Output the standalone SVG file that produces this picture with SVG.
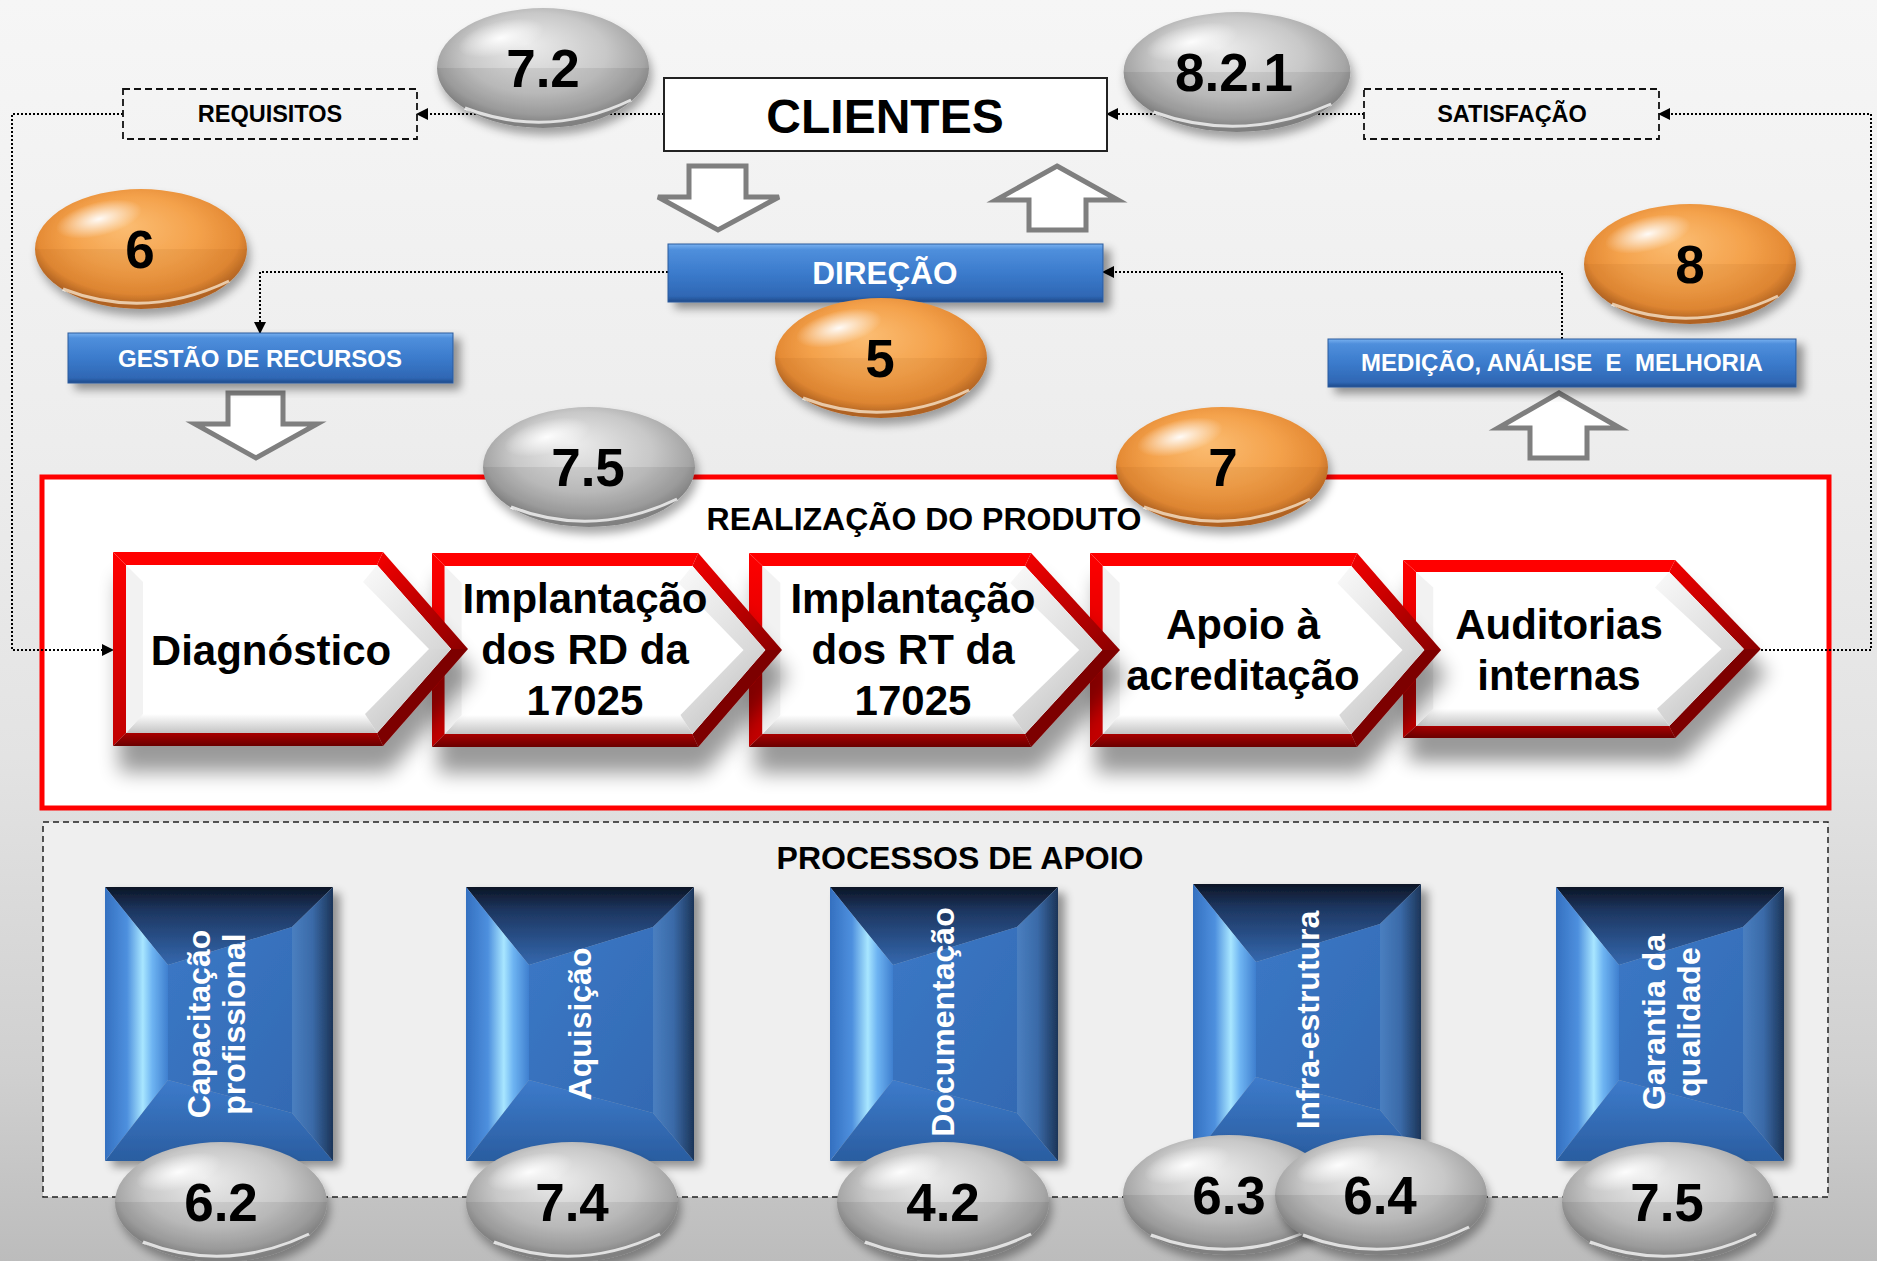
<svg xmlns="http://www.w3.org/2000/svg" width="1877" height="1261" viewBox="0 0 1877 1261">
<defs>
<style>
text{font-family:"Liberation Sans",Arial,sans-serif;font-weight:bold}
.lbl{font-size:23.5px;fill:#000;text-anchor:middle}
.bar{font-size:24px;fill:#fff;text-anchor:middle}
.num{font-size:53px;fill:#000;text-anchor:middle}
.chev{font-size:42px;fill:#000;text-anchor:middle}
.vt{font-size:32px;fill:#fff;text-anchor:middle}
.title{font-size:32px;fill:#000;text-anchor:middle}
.dot{fill:none;stroke:#000;stroke-width:2;stroke-dasharray:2 2}
.dashbox{fill:none;stroke:#111;stroke-width:1.8;stroke-dasharray:7 4}
.hollow{fill:#fff;stroke:#7f7f7f;stroke-width:5;stroke-linejoin:miter}
.barrect{fill:url(#barG);stroke:#2a5a9c;stroke-width:1}
</style>
<linearGradient id="bg" x1="0" y1="0" x2="0" y2="1">
<stop offset="0" stop-color="#f6f6f6"/><stop offset="0.35" stop-color="#ededed"/><stop offset="0.6" stop-color="#e3e3e3"/><stop offset="0.85" stop-color="#d0d0d0"/><stop offset="1" stop-color="#bcbcbc"/>
</linearGradient>
<linearGradient id="barG" x1="0" y1="0" x2="0" y2="1">
<stop offset="0" stop-color="#79b1f0"/><stop offset="0.1" stop-color="#4f8fdc"/><stop offset="0.5" stop-color="#3b7bcc"/><stop offset="0.9" stop-color="#2f67b4"/><stop offset="1" stop-color="#1f4a8a"/>
</linearGradient>
<radialGradient id="gBall" cx="0.5" cy="0.42" r="0.55" fx="0.42" fy="0.3">
<stop offset="0" stop-color="#ececec"/><stop offset="0.6" stop-color="#c8c8c8"/><stop offset="0.88" stop-color="#a6a6a6"/><stop offset="1" stop-color="#8a8a8a"/>
</radialGradient>
<radialGradient id="oBall" cx="0.5" cy="0.42" r="0.55" fx="0.42" fy="0.3">
<stop offset="0" stop-color="#fbbd73"/><stop offset="0.55" stop-color="#f4a24c"/><stop offset="0.86" stop-color="#e58b35"/><stop offset="1" stop-color="#b46626"/>
</radialGradient>
<radialGradient id="hl" cx="0.5" cy="0.5" r="0.5">
<stop offset="0" stop-color="#fff" stop-opacity="0.95"/><stop offset="1" stop-color="#fff" stop-opacity="0"/>
</radialGradient>
<linearGradient id="chL" x1="0" y1="0" x2="0" y2="1"><stop offset="0" stop-color="#ff0000"/><stop offset="1" stop-color="#c00000"/></linearGradient>
<linearGradient id="chUR" x1="0" y1="0" x2="1" y2="1"><stop offset="0" stop-color="#f50000"/><stop offset="1" stop-color="#8a0000"/></linearGradient>
<linearGradient id="chB" x1="0" y1="0" x2="0" y2="1"><stop offset="0" stop-color="#a80000"/><stop offset="1" stop-color="#6a0000"/></linearGradient>
<linearGradient id="inB" x1="0" y1="0" x2="0" y2="1"><stop offset="0" stop-color="#ffffff"/><stop offset="1" stop-color="#c4c4c4"/></linearGradient>
<linearGradient id="inR" x1="0" y1="0" x2="1" y2="1"><stop offset="0" stop-color="#eeeeee"/><stop offset="1" stop-color="#b8b8b8"/></linearGradient>
<linearGradient id="inUR" x1="0" y1="0" x2="1" y2="1"><stop offset="0" stop-color="#fafafa"/><stop offset="1" stop-color="#d6d6d6"/></linearGradient>
<linearGradient id="bxT" x1="0" y1="0" x2="0" y2="1"><stop offset="0" stop-color="#0c1526"/><stop offset="0.3" stop-color="#1d3660"/><stop offset="1" stop-color="#3468ae"/></linearGradient>
<linearGradient id="bxL" x1="0" y1="0" x2="1" y2="0"><stop offset="0" stop-color="#3470c0"/><stop offset="0.35" stop-color="#4e90de"/><stop offset="0.6" stop-color="#a8e6ff"/><stop offset="0.75" stop-color="#6eb4f2"/><stop offset="1" stop-color="#3f7fcf"/></linearGradient>
<linearGradient id="bxR" x1="0" y1="0" x2="1" y2="0"><stop offset="0" stop-color="#4a7fc0"/><stop offset="0.5" stop-color="#3a6aa8"/><stop offset="1" stop-color="#1c3558"/></linearGradient>
<linearGradient id="bxB" x1="0" y1="0" x2="0" y2="1"><stop offset="0" stop-color="#3d7bcb"/><stop offset="1" stop-color="#2a5da0"/></linearGradient>
<linearGradient id="bxF" x1="0" y1="0" x2="1" y2="1"><stop offset="0" stop-color="#3b78c6"/><stop offset="1" stop-color="#336ab3"/></linearGradient>
<filter id="bsh" x="-20%" y="-30%" width="140%" height="170%">
<feGaussianBlur in="SourceAlpha" stdDeviation="5"/><feOffset dx="3" dy="7"/><feComponentTransfer><feFuncA type="linear" slope="0.35"/></feComponentTransfer>
<feMerge><feMergeNode/><feMergeNode in="SourceGraphic"/></feMerge>
</filter>
<filter id="csh" x="-10%" y="-10%" width="130%" height="160%">
<feGaussianBlur in="SourceAlpha" stdDeviation="10"/><feOffset dx="6" dy="26"/><feComponentTransfer><feFuncA type="linear" slope="0.4"/></feComponentTransfer>
<feMerge><feMergeNode/><feMergeNode in="SourceGraphic"/></feMerge>
</filter>
<filter id="xsh" x="-20%" y="-20%" width="150%" height="150%">
<feGaussianBlur in="SourceAlpha" stdDeviation="5"/><feOffset dx="7" dy="6"/><feComponentTransfer><feFuncA type="linear" slope="0.4"/></feComponentTransfer>
<feMerge><feMergeNode/><feMergeNode in="SourceGraphic"/></feMerge>
</filter>
<marker id="ah" markerWidth="12" markerHeight="12" refX="11" refY="6" orient="auto" markerUnits="userSpaceOnUse">
<path d="M0,0 L12,6 L0,12 z" fill="#000"/>
</marker>
<g id="gb">
<ellipse rx="106" ry="60" fill="url(#gBall)"/>
<path d="M-106 0A106 60 0 0 0 106 0Z" fill="#000" opacity="0.07"/>
<ellipse cx="-42" cy="-30" rx="44" ry="17" transform="rotate(-14 -42 -30)" fill="url(#hl)"/>
<path d="M-78 40Q5 72 88 32" fill="none" stroke="#fff" stroke-width="3" stroke-opacity="0.75"/>
</g>
<g id="ob">
<ellipse rx="106" ry="60" fill="url(#oBall)"/>
<path d="M-106 0A106 60 0 0 0 106 0Z" fill="#7a3a00" opacity="0.07"/>
<ellipse cx="-42" cy="-30" rx="44" ry="17" transform="rotate(-14 -42 -30)" fill="url(#hl)"/>
<path d="M-78 40Q5 72 88 32" fill="none" stroke="#fff3e0" stroke-width="3" stroke-opacity="0.7"/>
</g>
<g id="chv">
<polygon points="0,0 270,0 264,13 13,13" fill="#ff0000"/>
<polygon points="0,0 13,13 13,181 0,194" fill="url(#chL)"/>
<polygon points="270,0 355,97 338,97 264,13" fill="url(#chUR)"/>
<polygon points="355,97 270,194 264,181 338,97" fill="#7d0000"/>
<polygon points="0,194 270,194 264,181 13,181" fill="url(#chB)"/>
<polygon points="13,13 264,13 338,97 264,181 13,181" fill="#fff"/>
<polygon points="13,181 264,181 252,162 30,162" fill="url(#inB)"/>
<polygon points="264,181 338,97 316,97 252,162" fill="url(#inR)"/>
<polygon points="264,13 338,97 316,97 250,30" fill="url(#inUR)"/>
<polygon points="13,13 30,30 30,162 13,181" fill="#f2f2f2"/>
</g>
<g id="bx">
<polygon points="0,0 228,0 187,40 63,78" fill="url(#bxT)"/>
<polygon points="0,0 63,78 63,193 0,274" fill="url(#bxL)"/>
<polygon points="228,0 228,274 187,226 187,40" fill="url(#bxR)"/>
<polygon points="0,274 228,274 187,226 63,193" fill="url(#bxB)"/>
<polygon points="63,78 187,40 187,226 63,193" fill="url(#bxF)"/>
</g>
</defs>

<rect id="background" x="0" y="0" width="1877" height="1261" fill="url(#bg)"/>

<g id="container-realizacao">
<rect x="42" y="477" width="1787" height="331" fill="#fff" stroke="#ff0000" stroke-width="5"/>
<text class="title" x="924" y="530">REALIZAÇÃO DO PRODUTO</text>
</g>
<g id="container-apoio">
<rect x="43" y="822" width="1785" height="375" fill="#efefef" stroke="#222" stroke-width="1.5" stroke-dasharray="6 4"/>
<text class="title" x="960" y="869">PROCESSOS DE APOIO</text>
</g>

<g id="connectors">
<path class="dot" d="M664 114H417" marker-end="url(#ah)"/>
<path class="dot" d="M123 114H12V650H113" marker-end="url(#ah)"/>
<path class="dot" d="M1364 114H1107" marker-end="url(#ah)"/>
<path class="dot" d="M1761 650H1871V114H1659" marker-end="url(#ah)"/>
<path class="dot" d="M668 272H260V333" marker-end="url(#ah)"/>
<path class="dot" d="M1562 339V272H1103" marker-end="url(#ah)"/>
<polygon class="hollow" points="689,166 746,166 746,197 779,197 718,230 658,197 689,197"/>
<polygon class="hollow" points="1057,166 1118,200 1086,200 1086,230 1029,230 1029,200 996,200"/>
<polygon class="hollow" points="228,393 283,393 283,424 317,424 256,458 195,424 228,424"/>
<polygon class="hollow" points="1559,393 1620,428 1587,428 1587,458 1530,458 1530,428 1498,428"/>
</g>

<g id="node-requisitos">
<rect class="dashbox" x="123" y="89" width="294" height="50"/>
<text class="lbl" x="270" y="122">REQUISITOS</text>
</g>
<g id="node-satisfacao">
<rect class="dashbox" x="1364" y="89" width="295" height="50"/>
<text class="lbl" x="1512" y="122">SATISFAÇÃO</text>
</g>
<g id="node-clientes">
<rect x="664" y="78" width="443" height="73" fill="#fff" stroke="#222" stroke-width="2"/>
<text x="885" y="133" font-size="48" text-anchor="middle" fill="#000">CLIENTES</text>
</g>
<g id="node-direcao">
<rect class="barrect" x="668" y="244" width="435" height="58" filter="url(#xsh)"/>
<text x="885" y="284" font-size="31.5" text-anchor="middle" fill="#fff">DIREÇÃO</text>
</g>
<g id="node-gestao">
<rect class="barrect" x="68" y="333" width="385" height="50" filter="url(#xsh)"/>
<text class="bar" x="260" y="367">GESTÃO DE RECURSOS</text>
</g>
<g id="node-medicao">
<rect class="barrect" x="1328" y="339" width="468" height="48" filter="url(#xsh)"/>
<text class="bar" x="1562" y="371" xml:space="preserve" style="white-space:pre">MEDIÇÃO, ANÁLISE  E  MELHORIA</text>
</g>

<g id="node-auditorias">
<use href="#chv" transform="translate(1403,560) scale(1.008,0.9175)" filter="url(#csh)"/>
<text class="chev" x="1559" y="639">Auditorias</text>
<text class="chev" x="1559" y="690">internas</text>
</g>
<g id="node-apoio">
<use href="#chv" transform="translate(1090,553) scale(0.989,1)" filter="url(#csh)"/>
<text class="chev" x="1243" y="639">Apoio à</text>
<text class="chev" x="1243" y="690">acreditação</text>
</g>
<g id="node-implantacao-rt">
<use href="#chv" transform="translate(749,553) scale(1.045,1)" filter="url(#csh)"/>
<text class="chev" x="913" y="613">Implantação</text>
<text class="chev" x="913" y="664">dos RT da</text>
<text class="chev" x="913" y="715">17025</text>
</g>
<g id="node-implantacao-rd">
<use href="#chv" transform="translate(432,553) scale(0.986,1)" filter="url(#csh)"/>
<text class="chev" x="585" y="613">Implantação</text>
<text class="chev" x="585" y="664">dos RD da</text>
<text class="chev" x="585" y="715">17025</text>
</g>
<g id="node-diagnostico">
<use href="#chv" transform="translate(113,552)" filter="url(#csh)"/>
<text class="chev" x="271" y="665">Diagnóstico</text>
</g>

<g id="node-capacitacao">
<use href="#bx" x="105" y="887" filter="url(#xsh)"/>
<text class="vt" transform="translate(210,1024) rotate(-90)">Capacitação</text>
<text class="vt" transform="translate(245,1024) rotate(-90)">profissional</text>
</g>
<g id="node-aquisicao">
<use href="#bx" x="466" y="887" filter="url(#xsh)"/>
<text class="vt" transform="translate(591,1024) rotate(-90)">Aquisição</text>
</g>
<g id="node-documentacao">
<use href="#bx" x="830" y="887" filter="url(#xsh)"/>
<text class="vt" transform="translate(954,1022) rotate(-90)">Documentação</text>
</g>
<g id="node-infra">
<use href="#bx" x="1193" y="884" filter="url(#xsh)"/>
<text class="vt" transform="translate(1319,1020) rotate(-90)">Infra-estrutura</text>
</g>
<g id="node-garantia">
<use href="#bx" x="1556" y="887" filter="url(#xsh)"/>
<text class="vt" transform="translate(1665,1022) rotate(-90)">Garantia da</text>
<text class="vt" transform="translate(1700,1022) rotate(-90)">qualidade</text>
</g>

<g id="ball-7-2"><use href="#gb" x="543" y="68" filter="url(#bsh)"/><text class="num" x="543" y="87">7.2</text></g>
<g id="ball-8-2-1"><use href="#gb" transform="translate(1237,72) scale(1.07,1)" filter="url(#bsh)"/><text class="num" x="1234" y="91">8.2.1</text></g>
<g id="ball-6"><use href="#ob" x="141" y="249" filter="url(#bsh)"/><text class="num" x="140" y="268">6</text></g>
<g id="ball-5"><use href="#ob" x="881" y="358" filter="url(#bsh)"/><text class="num" x="880" y="377">5</text></g>
<g id="ball-8"><use href="#ob" x="1690" y="264" filter="url(#bsh)"/><text class="num" x="1690" y="283">8</text></g>
<g id="ball-7-5-top"><use href="#gb" x="589" y="467" filter="url(#bsh)"/><text class="num" x="588" y="486">7.5</text></g>
<g id="ball-7"><use href="#ob" x="1222" y="467" filter="url(#bsh)"/><text class="num" x="1223" y="486">7</text></g>
<g id="ball-6-2"><use href="#gb" x="221" y="1202" filter="url(#bsh)"/><text class="num" x="221" y="1221">6.2</text></g>
<g id="ball-7-4"><use href="#gb" x="572" y="1202" filter="url(#bsh)"/><text class="num" x="572" y="1221">7.4</text></g>
<g id="ball-4-2"><use href="#gb" x="943" y="1202" filter="url(#bsh)"/><text class="num" x="943" y="1221">4.2</text></g>
<g id="ball-6-3"><use href="#gb" x="1229" y="1195" filter="url(#bsh)"/><text class="num" x="1229" y="1214">6.3</text></g>
<g id="ball-6-4"><use href="#gb" x="1381" y="1195" filter="url(#bsh)"/><text class="num" x="1380" y="1214">6.4</text></g>
<g id="ball-7-5-bottom"><use href="#gb" x="1668" y="1202" filter="url(#bsh)"/><text class="num" x="1667" y="1221">7.5</text></g>
</svg>
